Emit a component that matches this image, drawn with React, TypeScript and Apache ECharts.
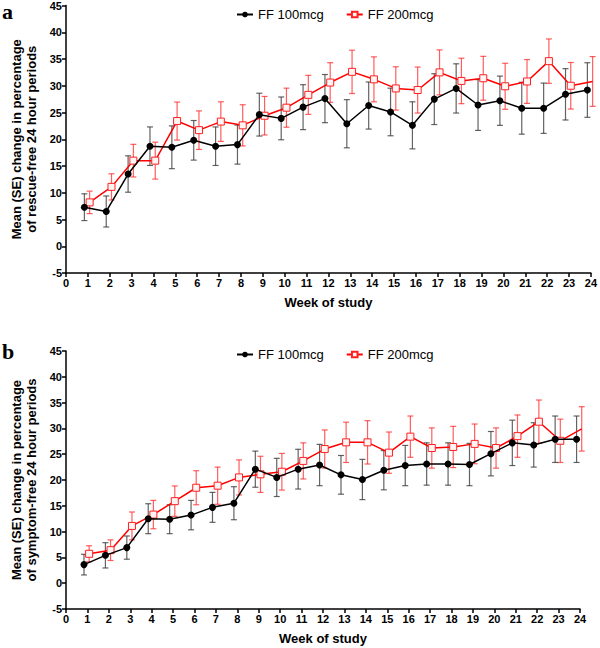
import React, { useEffect, useRef } from "react";
import * as echarts from "echarts";

const weeks = [1, 2, 3, 4, 5, 6, 7, 8, 9, 10, 11, 12, 13, 14, 15, 16, 17, 18, 19, 20, 21, 22, 23, 24];
const xTicks = ["0", "1", "2", "3", "4", "5", "6", "7", "8", "9", "10", "11", "12", "13", "14", "15", "16", "17", "18", "19", "20", "21", "22", "23", "24"];
const yTicks = ["-5", "0", "5", "10", "15", "20", "25", "30", "35", "40", "45"];
const seriesNames = ["FF 100mcg", "FF 200mcg"];

// Panel a: rescue-free 24 hour periods
const aBlackMean = [7.3, 6.5, 13.5, 18.7, 18.5, 19.8, 18.7, 19.0, 24.6, 23.9, 26.0, 27.6, 22.9, 26.3, 25.1, 22.6, 27.5, 29.5, 26.4, 27.2, 25.8, 25.8, 28.4, 29.2];
const aBlackSE = [2.5, 2.9, 3.4, 3.6, 4.0, 3.7, 3.6, 3.65, 4.0, 4.0, 4.2, 4.5, 4.5, 4.4, 4.45, 4.4, 4.75, 4.6, 4.75, 4.6, 4.85, 4.7, 4.8, 5.1];
const aRedMean = [8.2, 11.1, 16.0, 16.0, 23.4, 21.7, 23.3, 22.6, 24.4, 25.9, 28.3, 30.6, 32.6, 31.2, 29.5, 29.2, 32.5, 30.9, 31.4, 29.9, 30.8, 34.6, 30.0, 30.8];
const aRedSE = [2.1, 2.45, 3.05, 3.45, 3.55, 3.6, 3.7, 3.85, 3.6, 3.65, 3.65, 3.7, 4.05, 4.2, 4.05, 4.3, 4.2, 4.25, 4.1, 4.3, 4.1, 4.15, 4.35, 4.65];

// Panel b: symptom-free 24 hour periods
const bBlackMean = [3.6, 5.4, 6.9, 12.5, 12.4, 13.2, 14.7, 15.5, 22.1, 20.5, 22.1, 22.9, 21.0, 20.1, 21.9, 22.8, 23.1, 23.1, 23.0, 25.1, 27.2, 26.8, 27.9, 27.9];
const bBlackSE = [2.0, 2.45, 2.25, 2.9, 2.8, 2.85, 2.9, 3.2, 3.5, 3.7, 3.85, 4.0, 3.75, 3.9, 3.8, 3.9, 4.1, 4.1, 4.1, 4.3, 4.4, 4.3, 4.5, 4.5];
const bRedMean = [5.7, 6.4, 11.1, 13.3, 15.9, 18.5, 18.9, 20.5, 21.1, 21.6, 23.7, 26.0, 27.3, 27.3, 25.3, 28.4, 26.2, 26.4, 27.0, 26.2, 28.5, 31.3, 27.6, 29.9];
const bRedSE = [1.55, 2.0, 2.7, 2.75, 2.95, 3.3, 3.6, 3.4, 3.5, 3.55, 3.5, 3.7, 3.9, 4.2, 4.0, 4.0, 3.9, 4.0, 3.85, 3.9, 4.1, 4.2, 4.2, 4.3];

const BLACK_SHIFT = -0.16;
const RED_SHIFT = 0.08;
const FONT = "'Liberation Sans', Arial, sans-serif";

function pts(mean: number[], shift: number) {
  return weeks.map((w, i) => [w + shift, mean[i]]);
}
function bars(mean: number[], se: number[], shift: number) {
  return weeks.map((w, i) => [w + shift, mean[i] - se[i], mean[i] + se[i]]);
}

function errorSeries(data: number[][], color: string, idx: number) {
  return {
    type: "custom",
    xAxisIndex: idx,
    yAxisIndex: idx,
    data,
    encode: { x: 0, y: [1, 2] },
    z: 1,
    silent: true,
    renderItem: (_p: any, api: any) => {
      const x = api.value(0);
      const top = api.coord([x, api.value(2)]);
      const bot = api.coord([x, api.value(1)]);
      const cap = 3;
      const style = { stroke: color, lineWidth: 1.2 };
      return {
        type: "group",
        children: [
          { type: "line", shape: { x1: top[0], y1: top[1], x2: bot[0], y2: bot[1] }, style },
          { type: "line", shape: { x1: top[0] - cap, y1: top[1], x2: top[0] + cap, y2: top[1] }, style },
          { type: "line", shape: { x1: bot[0] - cap, y1: bot[1], x2: bot[0] + cap, y2: bot[1] }, style },
        ],
      };
    },
  };
}

function lineSeries(name: string, data: number[][], idx: number, black: boolean) {
  return {
    type: "line",
    name,
    xAxisIndex: idx,
    yAxisIndex: idx,
    data,
    z: black ? 4 : 3,
    symbol: black ? "circle" : "rect",
    symbolSize: black ? 7 : 7,
    lineStyle: { color: black ? "#000" : "#ff0000", width: 1.5 },
    itemStyle: black
      ? { color: "#000", borderWidth: 0 }
      : { color: "#fff4f4", borderColor: "#ff2020", borderWidth: 1 },
  };
}

function xAxis(idx: number) {
  return {
    type: "value",
    gridIndex: idx,
    min: 0,
    max: 24,
    interval: 1,
    name: "Week of study",
    nameLocation: "middle",
    nameGap: 23,
    nameTextStyle: { fontFamily: FONT, fontWeight: "bold", fontSize: 13, color: "#000" },
    axisLine: { onZero: false, lineStyle: { color: "#000", width: 1.5 } },
    axisTick: { show: true, length: 4, lineStyle: { color: "#000", width: 1.5 } },
    axisLabel: {
      fontFamily: FONT,
      fontWeight: "bold",
      fontSize: 11,
      color: "#000",
      margin: 4,
      formatter: (v: number) => xTicks[Math.round(v)] ?? "",
    },
    splitLine: { show: false },
  };
}

function yAxis(idx: number, title: string) {
  return {
    type: "value",
    gridIndex: idx,
    min: -5,
    max: 45,
    interval: 5,
    name: title,
    nameLocation: "middle",
    nameGap: 27,
    nameTextStyle: { fontFamily: FONT, fontWeight: "bold", fontSize: 13, color: "#000", lineHeight: 15 },
    axisLine: { show: true, lineStyle: { color: "#000", width: 1.5 } },
    axisTick: { show: true, length: 4, lineStyle: { color: "#000", width: 1.5 } },
    axisLabel: {
      fontFamily: FONT,
      fontWeight: "bold",
      fontSize: 11,
      color: "#000",
      margin: 4,
      formatter: (v: number) => yTicks[Math.round((v + 5) / 5)] ?? "",
    },
    splitLine: { show: false },
  };
}

function legend(top: number) {
  return {
    data: seriesNames,
    top,
    left: 231,
    itemWidth: 16,
    itemHeight: 7,
    itemGap: 22,
    textStyle: { fontFamily: FONT, fontSize: 13, color: "#000" },
  };
}

export default function App() {
  const ref = useRef<HTMLDivElement>(null);
  useEffect(() => {
    if (!ref.current) return;
    const chart = echarts.init(ref.current, undefined, { renderer: "svg" });
    chart.setOption({
      animation: false,
      backgroundColor: "#fff",
      legend: [legend(3), legend(343)],
      grid: [
        { left: 66, right: 5, top: 5, height: 268 },
        { left: 66, right: 20, top: 351, height: 258 },
      ],
      xAxis: [xAxis(0), xAxis(1)],
      yAxis: [
        yAxis(0, "Mean (SE) change in percentage\nof rescue-free 24 hour periods"),
        yAxis(1, "Mean (SE) change in percentage\nof symptom-free 24 hour periods"),
      ],
      graphic: [
        { type: "text", left: 2, top: 0, style: { text: "a", font: "bold 22px 'Liberation Serif', serif", fill: "#000" } },
        { type: "text", left: 2, top: 340, style: { text: "b", font: "bold 22px 'Liberation Serif', serif", fill: "#000" } },
      ],
      series: [
        errorSeries(bars(aRedMean, aRedSE, RED_SHIFT), "rgba(255,40,40,0.75)", 0),
        errorSeries(bars(aBlackMean, aBlackSE, BLACK_SHIFT), "rgba(60,60,60,0.8)", 0),
        lineSeries(seriesNames[1], pts(aRedMean, RED_SHIFT), 0, false),
        lineSeries(seriesNames[0], pts(aBlackMean, BLACK_SHIFT), 0, true),
        errorSeries(bars(bRedMean, bRedSE, RED_SHIFT), "rgba(255,40,40,0.75)", 1),
        errorSeries(bars(bBlackMean, bBlackSE, BLACK_SHIFT), "rgba(60,60,60,0.8)", 1),
        lineSeries(seriesNames[1], pts(bRedMean, RED_SHIFT), 1, false),
        lineSeries(seriesNames[0], pts(bBlackMean, BLACK_SHIFT), 1, true),
      ],
    });
    return () => chart.dispose();
  }, []);
  return <div ref={ref} style={{ position: "absolute", left: 0, top: 0, width: 600, height: 648 }} />;
}
